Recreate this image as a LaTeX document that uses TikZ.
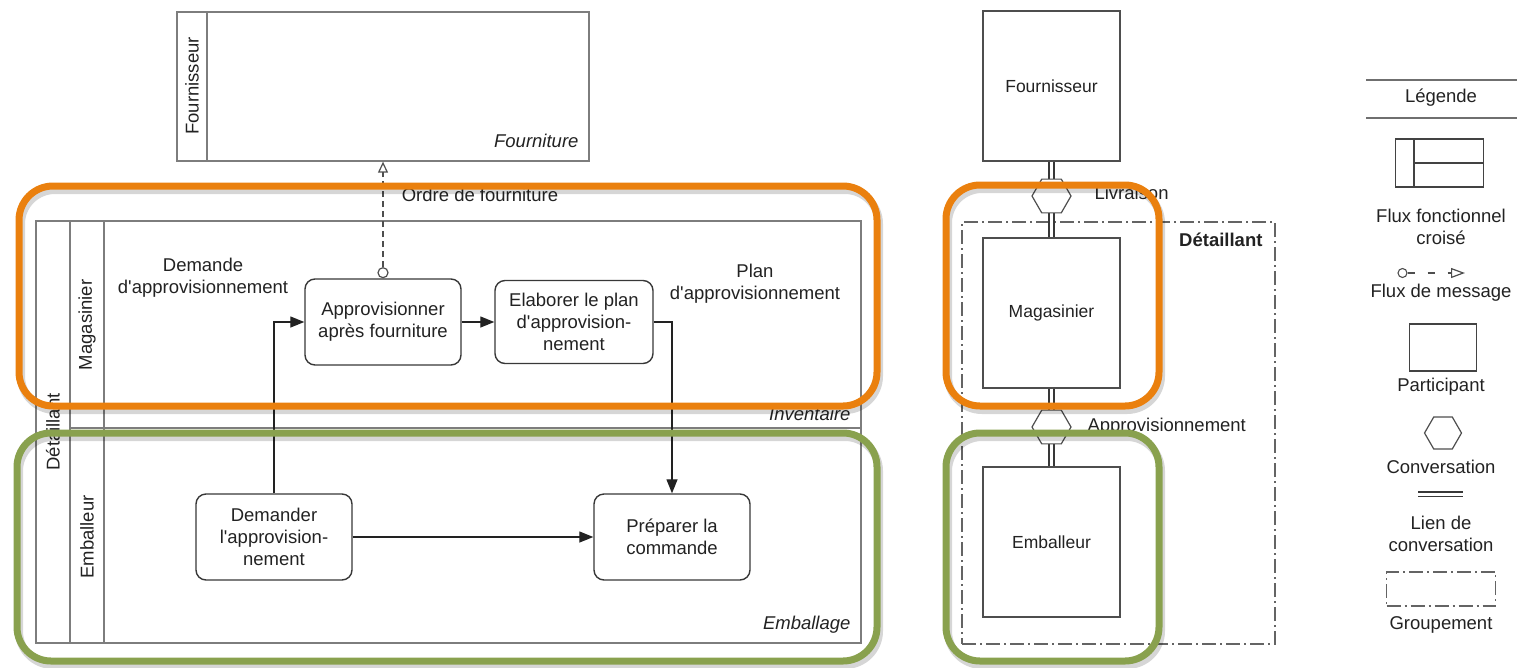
\documentclass[tikz,border=0pt]{standalone}
\usepackage{fontspec}
\setmainfont{Liberation Sans}
\usetikzlibrary{shapes.geometric,arrows.meta}
\definecolor{hlorange}{RGB}{234,128,14}
\definecolor{hlgreen}{RGB}{137,161,78}
\definecolor{ink}{RGB}{34,34,34}
\definecolor{poolgray}{RGB}{125,125,125}
% straight apostrophe
\newcommand{\apos}{\textquotesingle}

\begin{document}
\begin{tikzpicture}[x=1pt,y=-1pt,
  every node/.style={text=ink, font=\fontsize{18.5}{22}\selectfont},
  pool/.style={draw=poolgray, line width=1.3pt},
  task/.style={draw=ink!90, line width=1.4pt, rounded corners=10pt, minimum width=156pt, minimum height=86pt, align=center, inner sep=2pt},
  flow/.style={draw=ink, line width=1.3pt, -{Triangle[length=14pt,width=11pt]}},
  msg/.style={draw=ink!80, line width=1.2pt, dash pattern=on 6pt off 4pt},
  participant/.style={draw=ink!80, line width=1.4pt, minimum width=137pt, minimum height=150pt, inner sep=0pt, font=\fontsize{17.5}{21}\selectfont},
  conv/.style={draw=ink!80, fill=white, line width=1.2pt, regular polygon, regular polygon sides=6, minimum size=39pt, inner sep=0pt},
  convlink/.style={draw=ink!90, line width=1.7pt, double=white, double distance=3.5pt},
  grouping/.style={draw=ink!70, line width=1.3pt, dash pattern=on 14pt off 4pt on 2pt off 4pt},
  lanetitle/.style={rotate=90},
  poollabel/.style={font=\fontsize{18.5}{22}\selectfont\itshape},
  hl/.style={line width=7pt, rounded corners=34pt},
  hlshadow/.style={line width=8pt, rounded corners=34pt, draw=black, opacity=0.16},
]
\useasboundingbox (0,0) rectangle (1517,667);

% ---------- Fournisseur pool ----------
\node[pool, minimum width=412pt, minimum height=149pt, inner sep=0pt] (poolF) at (383,86.5) {};
\draw[pool] (207,12) -- (207,161);
\node[lanetitle] (lblF) at (192,86) {Fournisseur};
\node[poollabel, anchor=east] (procF) at (582,141) {Fourniture};

% ---------- Détaillant pool with two lanes ----------
\node[pool, minimum width=825pt, minimum height=422pt, inner sep=0pt] (poolD) at (448.5,432) {};
\draw[pool] (70,221) -- (70,643);
\draw[pool] (104,221) -- (104,643);
\draw[pool] (70,428) -- (861,428);
\node[lanetitle] (lblD) at (53,432) {Détaillant};
\node[lanetitle] (lblM) at (87,325) {Magasinier};
\node[lanetitle] (lblE) at (87,537) {Emballeur};
\node[poollabel, anchor=east] (procI) at (854,414) {Inventaire};
\node[poollabel, anchor=east] (procE) at (854,625) {Emballage};

% ---------- tasks ----------
\node[task] (appro) at (383,322) {Approvisionner\\après fourniture};
\node[task, minimum width=158pt, minimum height=83pt] (elab) at (574,322) {Elaborer le plan\\d\apos approvision-\\nement};
\node[task] (dem) at (274,537) {Demander\\l\apos approvision-\\nement};
\node[task] (prep) at (672,537) {Préparer la\\commande};

% ---------- sequence flows ----------
\draw[flow] (dem.north) |- (appro.west);
\draw[flow] (appro.east) -- (elab.west);
\draw[flow] (elab.east) -| (prep.north);
\draw[flow] (dem.east) -- (prep.west);

% ---------- message flow ----------
\node[circle, draw=ink!80, line width=1.2pt, fill=white, minimum size=10pt, inner sep=0pt, anchor=south] (mstart) at (appro.north) {};
\draw[msg, -{Triangle[open,length=11pt,width=10pt]}] (mstart.north) -- (poolF.south);

% ---------- flow labels ----------
\node[align=center] (lblOrdre) at (480,195) {Ordre de fourniture};
\node[align=center] (lblDemande) at (203,278) {Demande\\d\apos approvisionnement};
\node[align=center] (lblPlan) at (755,284) {Plan\\d\apos approvisionnement};

% ---------- conversation view ----------
\node[grouping, minimum width=313pt, minimum height=422pt, inner sep=0pt] (grp) at (1118.5,433) {};
\node[font=\fontsize{18.5}{22}\selectfont\bfseries, anchor=east] (grpTitle) at (1266,240) {Détaillant};

\node[participant] (pF) at (1051.5,86) {Fournisseur};
\node[participant] (pM) at (1051.5,313) {Magasinier};
\node[participant] (pE) at (1051.5,542) {Emballeur};

\draw[convlink] (pF.south) -- (pM.north);
\draw[convlink] (pM.south) -- (pE.north);
\node[conv] (cLiv) at (1051.5,196) {};
\node[conv] (cApp) at (1051.5,427) {};
\node[anchor=west] (lblLiv) at (1091,193) {Livraison};
\node[anchor=west] (lblApp) at (1084,427) {Approvisionnement};

% ---------- legend ----------
\draw[draw=ink!65, line width=2.5pt] (1366,80) -- (1517,80);
\draw[draw=ink!65, line width=2.5pt] (1366,118) -- (1517,118);
\node (lgTitle) at (1441,98) {Légende};

\node[draw=ink!85, line width=1.3pt, minimum width=88pt, minimum height=48pt, inner sep=0pt] (lgCross) at (1439.5,163) {};
\draw[draw=ink!85, line width=1.3pt] (1414,139) -- (1414,187);
\draw[draw=ink!85, line width=1.3pt] (1414,163) -- (1483.5,163);
\node[align=center] (lgCrossT) at (1441,227) {Flux fonctionnel\\croisé};

\node[circle, draw=ink!80, line width=1.1pt, minimum size=9pt, inner sep=0pt] (lgMsgC) at (1402.5,273) {};
\coordinate (lgMsgEnd) at (1465,273);
\draw[draw=ink!80, line width=1.2pt, dash pattern=on 7pt off 13pt, -{Triangle[open,length=14pt,width=10pt]}] (lgMsgC.east) -- (lgMsgEnd);
\node (lgMsgT) at (1441,293) {Flux de message};

\node[draw=ink!85, line width=1.3pt, minimum width=67pt, minimum height=47pt, inner sep=0pt] (lgPart) at (1443,347.5) {};
\node (lgPartT) at (1441,387) {Participant};

\node[conv, minimum size=37pt] (lgConv) at (1443,433) {};
\node (lgConvT) at (1441,467) {Conversation};

\coordinate (lgLinkA) at (1418,494);
\coordinate (lgLinkB) at (1463,494);
\draw[convlink, double distance=3pt] (lgLinkA) -- (lgLinkB);
\node[align=center] (lgLinkT) at (1441,534) {Lien de\\conversation};

\node[grouping, minimum width=109pt, minimum height=34pt, inner sep=0pt] (lgGrp) at (1441,589) {};
\node (lgGrpT) at (1441,625) {Groupement};

% ---------- highlight frames ----------
\draw[hlshadow, xshift=2pt, yshift=-4pt] (19,186) rectangle (877,406);
\draw[hlshadow, xshift=2pt, yshift=-4pt] (17,433) rectangle (877,661);
\draw[hlshadow, xshift=2pt, yshift=-4pt] (946,185) rectangle (1159,406);
\draw[hlshadow, xshift=2pt, yshift=-4pt] (946,433) rectangle (1159,661);
\draw[hl, draw=hlorange] (19,186) rectangle (877,406);
\draw[hl, draw=hlgreen] (17,433) rectangle (877,661);
\draw[hl, draw=hlorange] (946,185) rectangle (1159,406);
\draw[hl, draw=hlgreen] (946,433) rectangle (1159,661);
\end{tikzpicture}
\end{document}
